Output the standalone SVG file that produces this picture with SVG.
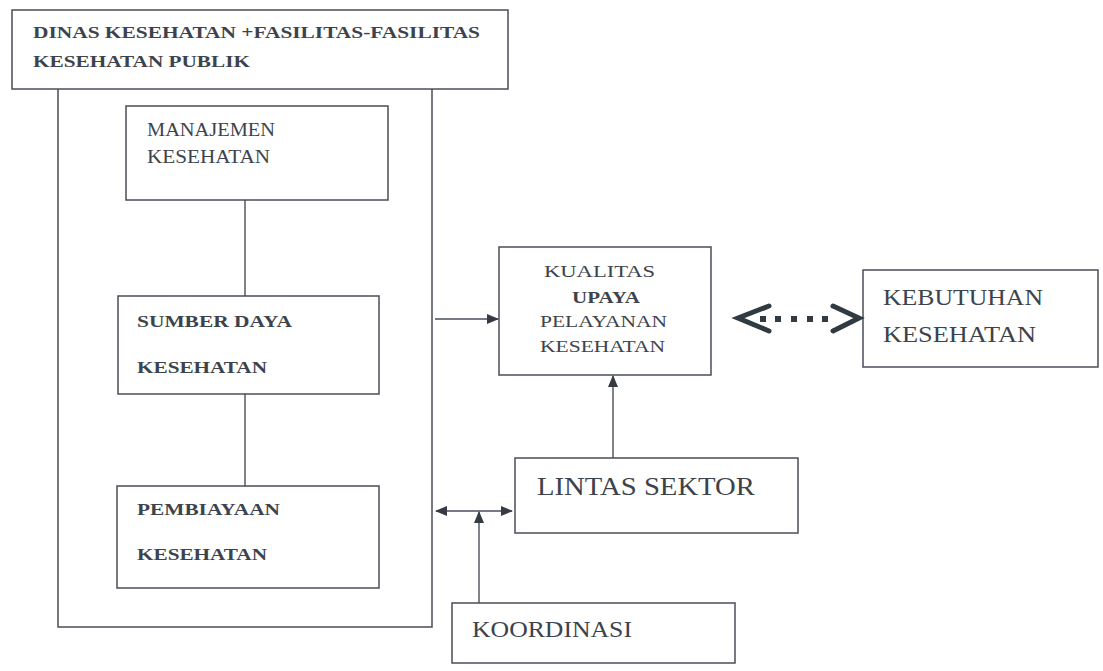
<svg xmlns="http://www.w3.org/2000/svg" width="1103" height="671" viewBox="0 0 1103 671">
<style>
.box{fill:none;stroke:#4a4f57;stroke-width:1.5}
.ln{fill:none;stroke:#4a4f57;stroke-width:1.4}
.t{font-family:"Liberation Serif","Times New Roman",serif;fill:#3d434c}
.b{font-weight:bold}
.chev{fill:none;stroke:#2f3a41;stroke-width:5;stroke-linecap:round;stroke-linejoin:miter}
</style>
<defs>
<marker id="ah" markerWidth="12" markerHeight="10" refX="11" refY="5" orient="auto" markerUnits="userSpaceOnUse">
<path d="M0,0 L12,5 L0,10 Z" fill="#353b43"/>
</marker>
<marker id="ahs" markerWidth="12" markerHeight="10" refX="1" refY="5" orient="auto" markerUnits="userSpaceOnUse">
<path d="M12,0 L0,5 L12,10 Z" fill="#353b43"/>
</marker>
</defs>
<rect width="1103" height="671" fill="#ffffff"/>

<g id="dinas">
<rect class="box" x="12" y="10" width="496" height="79"/>
<text class="t b" x="33" y="38" font-size="17" textLength="447" lengthAdjust="spacingAndGlyphs">DINAS KESEHATAN +FASILITAS-FASILITAS</text>
<text class="t b" x="33" y="67" font-size="17" textLength="217" lengthAdjust="spacingAndGlyphs">KESEHATAN PUBLIK</text>
<path class="box" d="M58,89 V627 H432 V89"/>
</g>

<g id="manajemen">
<rect class="box" x="126" y="106" width="262" height="94"/>
<text class="t" x="147" y="136" font-size="18" textLength="128" lengthAdjust="spacingAndGlyphs">MANAJEMEN</text>
<text class="t" x="147" y="163" font-size="18" textLength="123" lengthAdjust="spacingAndGlyphs">KESEHATAN</text>
</g>

<g id="sumberdaya">
<rect class="box" x="118" y="296" width="261" height="98"/>
<text class="t b" x="137" y="327" font-size="17" textLength="155" lengthAdjust="spacingAndGlyphs">SUMBER DAYA</text>
<text class="t b" x="137" y="373" font-size="17" textLength="130" lengthAdjust="spacingAndGlyphs">KESEHATAN</text>
</g>

<g id="pembiayaan">
<rect class="box" x="117" y="486" width="262" height="102"/>
<text class="t b" x="137" y="515" font-size="17" textLength="143" lengthAdjust="spacingAndGlyphs">PEMBIAYAAN</text>
<text class="t b" x="137" y="560" font-size="17" textLength="130" lengthAdjust="spacingAndGlyphs">KESEHATAN</text>
</g>

<g id="kualitas">
<rect class="box" x="499" y="247" width="212" height="128"/>
<text class="t" x="544" y="277" font-size="17" textLength="111" lengthAdjust="spacingAndGlyphs">KUALITAS</text>
<text class="t b" x="572" y="303" font-size="17" textLength="68" lengthAdjust="spacingAndGlyphs">UPAYA</text>
<text class="t" x="540" y="327" font-size="17" textLength="127" lengthAdjust="spacingAndGlyphs">PELAYANAN</text>
<text class="t" x="540" y="352" font-size="17" textLength="125" lengthAdjust="spacingAndGlyphs">KESEHATAN</text>
</g>

<g id="kebutuhan">
<rect class="box" x="863" y="270" width="235" height="97"/>
<text class="t" x="883" y="305" font-size="24" textLength="160" lengthAdjust="spacingAndGlyphs">KEBUTUHAN</text>
<text class="t" x="883" y="342" font-size="24" textLength="153" lengthAdjust="spacingAndGlyphs">KESEHATAN</text>
</g>

<g id="lintas">
<rect class="box" x="515" y="458" width="283" height="75"/>
<text class="t" x="537" y="495" font-size="26" textLength="218" lengthAdjust="spacingAndGlyphs">LINTAS SEKTOR</text>
</g>

<g id="koordinasi">
<rect class="box" x="452" y="603" width="283" height="60"/>
<text class="t" x="472" y="637" font-size="23" textLength="160" lengthAdjust="spacingAndGlyphs">KOORDINASI</text>
</g>

<g id="connectors">
<line class="ln" x1="245" y1="200" x2="245" y2="296"/>
<line class="ln" x1="245" y1="394" x2="245" y2="486"/>
<line class="ln" x1="435" y1="319" x2="498" y2="319" marker-end="url(#ah)"/>
<line class="ln" x1="613" y1="458" x2="613" y2="376" marker-end="url(#ah)"/>
<line class="ln" x1="436" y1="511" x2="512" y2="511" marker-start="url(#ahs)" marker-end="url(#ah)"/>
<line class="ln" x1="479" y1="603" x2="479" y2="512" marker-end="url(#ah)"/>
<g id="dashed-double-arrow">
<polyline class="chev" points="769,306 738,318 769,331"/>
<polyline class="chev" points="833,306 859,318 833,331"/>
<g fill="#333b42">
<rect x="760" y="316" width="6" height="6"/>
<rect x="775" y="316" width="6" height="6"/>
<rect x="791" y="316" width="6" height="6"/>
<rect x="807" y="316" width="6" height="6"/>
<rect x="822" y="316" width="6" height="6"/>
</g>
</g>
</g>
</svg>
